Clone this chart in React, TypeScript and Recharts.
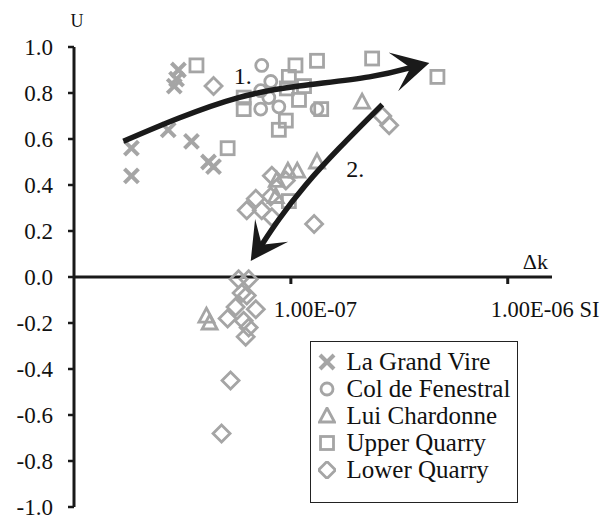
import React from 'react';
import {
  ScatterChart,
  Scatter,
  XAxis,
  YAxis,
  ReferenceLine,
  ReferenceDot,
  Legend,
  Curve,
} from 'recharts';

const GRAY = '#a5a5a5';
const INK = '#1a1a1a';
const FONT = "'Liberation Serif', Tinos, 'Times New Roman', Times, serif";

// Susceptibility change Δk (SI) against U, one list per site
const laGrandVire = [
  { k: 1.84e-8, u: 0.56 },
  { k: 1.84e-8, u: 0.44 },
  { k: 2.72e-8, u: 0.64 },
  { k: 3.48e-8, u: 0.59 },
  { k: 3.03e-8, u: 0.9 },
  { k: 2.97e-8, u: 0.86 },
  { k: 2.9e-8, u: 0.83 },
  { k: 4.17e-8, u: 0.5 },
  { k: 4.4e-8, u: 0.48 },
];

const colDeFenestral = [
  { k: 7.34e-8, u: 0.92 },
  { k: 8.08e-8, u: 0.85 },
  { k: 7.26e-8, u: 0.81 },
  { k: 7.91e-8, u: 0.78 },
  { k: 8.8e-8, u: 0.74 },
  { k: 7.26e-8, u: 0.73 },
  { k: 1.32e-7, u: 0.73 },
];

const luiChardonne = [
  { k: 2.13e-7, u: 0.76 },
  { k: 1.32e-7, u: 0.5 },
  { k: 1.07e-7, u: 0.46 },
  { k: 9.69e-8, u: 0.46 },
  { k: 8.61e-8, u: 0.42 },
  { k: 8.52e-8, u: 0.35 },
  { k: 4.08e-8, u: -0.17 },
  { k: 4.22e-8, u: -0.2 },
];

const upperQuarry = [
  { k: 3.67e-8, u: 0.92 },
  { k: 5.11e-8, u: 0.56 },
  { k: 6.06e-8, u: 0.78 },
  { k: 6.06e-8, u: 0.73 },
  { k: 1.05e-7, u: 0.92 },
  { k: 1.32e-7, u: 0.94 },
  { k: 2.37e-7, u: 0.95 },
  { k: 4.74e-7, u: 0.87 },
  { k: 9.79e-8, u: 0.87 },
  { k: 1.15e-7, u: 0.83 },
  { k: 9.58e-8, u: 0.82 },
  { k: 1.09e-7, u: 0.77 },
  { k: 9.48e-8, u: 0.68 },
  { k: 8.8e-8, u: 0.64 },
  { k: 1.38e-7, u: 0.73 },
  { k: 9.79e-8, u: 0.33 },
];

const lowerQuarry = [
  { k: 4.4e-8, u: 0.83 },
  { k: 2.64e-7, u: 0.7 },
  { k: 2.84e-7, u: 0.66 },
  { k: 1.28e-7, u: 0.23 },
  { k: 8.17e-8, u: 0.44 },
  { k: 6.89e-8, u: 0.34 },
  { k: 6.26e-8, u: 0.29 },
  { k: 7.34e-8, u: 0.29 },
  { k: 8.08e-8, u: 0.35 },
  { k: 8.17e-8, u: 0.26 },
  { k: 9.48e-8, u: 0.42 },
  { k: 5.74e-8, u: -0.01 },
  { k: 6.39e-8, u: -0.01 },
  { k: 5.93e-8, u: -0.07 },
  { k: 6.26e-8, u: -0.08 },
  { k: 5.56e-8, u: -0.13 },
  { k: 5.11e-8, u: -0.18 },
  { k: 6.89e-8, u: -0.14 },
  { k: 6.06e-8, u: -0.19 },
  { k: 6.39e-8, u: -0.22 },
  { k: 6.19e-8, u: -0.26 },
  { k: 5.27e-8, u: -0.45 },
  { k: 4.79e-8, u: -0.68 },
];

// Trend arrows (last point is the arrow tip)
const trend1 = [
  { k: 1.69e-8, u: 0.59 },
  { k: 3.03e-8, u: 0.69 },
  { k: 5.74e-8, u: 0.78 },
  { k: 1.09e-7, u: 0.83 },
  { k: 2.3e-7, u: 0.87 },
  { k: 3.56e-7, u: 0.91 },
  { k: 4.35e-7, u: 0.93 },
];
const trend2 = [
  { k: 2.64e-7, u: 0.75 },
  { k: 1.67e-7, u: 0.56 },
  { k: 1.17e-7, u: 0.4 },
  { k: 8.8e-8, u: 0.25 },
  { k: 7.34e-8, u: 0.14 },
  { k: 6.53e-8, u: 0.07 },
];
const trendLabels = [
  { k: 6.0e-8, u: 0.874, text: '1.' },
  { k: 1.98e-7, u: 0.468, text: '2.' },
];

const uTicks = [-1, -0.8, -0.6, -0.4, -0.2, 0, 0.2, 0.4, 0.6, 0.8, 1];
const kTicks = [1e-7, 1e-6];
const kTickLabels = ['1.00E-07', '1.00E-06 SI'];

type MarkerKind = 'cross' | 'circle' | 'triangle' | 'square' | 'diamond';

const sites: { name: string; data: { k: number; u: number }[]; marker: MarkerKind }[] = [
  { name: 'La Grand Vire', data: laGrandVire, marker: 'cross' },
  { name: 'Col de Fenestral', data: colDeFenestral, marker: 'circle' },
  { name: 'Lui Chardonne', data: luiChardonne, marker: 'triangle' },
  { name: 'Upper Quarry', data: upperQuarry, marker: 'square' },
  { name: 'Lower Quarry', data: lowerQuarry, marker: 'diamond' },
];

function Marker({ kind, cx, cy }: { kind: MarkerKind; cx: number; cy: number }) {
  const common = { fill: 'none', stroke: GRAY, strokeWidth: 2.8 };
  switch (kind) {
    case 'cross':
      return (
        <g stroke={GRAY} strokeWidth={4}>
          <line x1={cx - 7} y1={cy - 7} x2={cx + 7} y2={cy + 7} />
          <line x1={cx - 7} y1={cy + 7} x2={cx + 7} y2={cy - 7} />
        </g>
      );
    case 'circle':
      return <circle cx={cx} cy={cy} r={6} {...common} />;
    case 'triangle':
      return (
        <polygon
          points={`${cx},${cy - 8} ${cx + 7.5},${cy + 6} ${cx - 7.5},${cy + 6}`}
          strokeLinejoin="miter"
          {...common}
        />
      );
    case 'square':
      return <rect x={cx - 6.5} y={cy - 6.5} width={13} height={13} {...common} />;
    case 'diamond':
    default:
      return (
        <polygon
          points={`${cx},${cy - 8.5} ${cx + 8.5},${cy} ${cx},${cy + 8.5} ${cx - 8.5},${cy}`}
          {...common}
        />
      );
  }
}

// Curved shaft through the trend points, finished with a stealth arrowhead
const renderArrow = (props: any) => {
  const pts = (props.points || []).map((p: any) => ({
    x: p.x ?? p.cx,
    y: p.y ?? p.cy,
  }));
  if (pts.length < 2) return <g />;
  const tip = pts[pts.length - 1];
  const notch = pts[pts.length - 2];
  const dx = tip.x - notch.x;
  const dy = tip.y - notch.y;
  const len = Math.hypot(dx, dy) || 1;
  const ux = dx / len;
  const uy = dy / len;
  const nx = -uy;
  const ny = ux;
  const L = 37;
  const W = 20;
  const bx = tip.x - ux * L;
  const by = tip.y - uy * L;
  const shaft = [...pts.slice(0, -1), { x: notch.x + ux * 6, y: notch.y + uy * 6 }];
  const head = [
    tip,
    { x: bx + nx * W, y: by + ny * W },
    notch,
    { x: bx - nx * W, y: by - ny * W },
  ];
  return (
    <g>
      <Curve type="natural" points={shaft} stroke={INK} strokeWidth={5.5} fill="none" />
      <polygon points={head.map((p) => `${p.x},${p.y}`).join(' ')} fill={INK} stroke="none" />
    </g>
  );
};

const hiddenPoint = () => <g />;

function LegendBox(props: any) {
  const payload: any[] = props.payload || [];
  const names = payload.map((p) => p.value).filter((v) => sites.some((s) => s.name === v));
  const rows = names.length ? sites.filter((s) => names.includes(s.name)) : sites;
  return (
    <div
      style={{
        boxSizing: 'border-box',
        width: 208,
        height: 162,
        border: '1.5px solid #222',
        background: '#fff',
        padding: '6px 0 0 6.5px',
        fontFamily: FONT,
        fontSize: 25,
        color: '#111',
      }}
    >
      {rows.map((s) => (
        <div
          key={s.name}
          style={{ display: 'flex', alignItems: 'center', height: 27, lineHeight: '27px', whiteSpace: 'nowrap' }}
        >
          <svg width={18} height={18} style={{ marginRight: 11, flex: 'none' }}>
            <Marker kind={s.marker} cx={9} cy={9} />
          </svg>
          <span>{s.name}</span>
        </div>
      ))}
    </div>
  );
}

export default function App() {
  return (
    <div
      style={{
        position: 'absolute',
        left: 0,
        top: 0,
        width: 614,
        height: 516,
        overflow: 'hidden',
        background: '#fff',
        fontFamily: FONT,
      }}
    >
      <ScatterChart width={614} height={516} margin={{ top: 47, right: 62, bottom: 9, left: 0 }}>
        <XAxis
          type="number"
          dataKey="k"
          scale="log"
          domain={[1e-8, 1.6e-6]}
          allowDataOverflow
          hide
        />
        <YAxis
          type="number"
          dataKey="u"
          domain={[-1, 1]}
          ticks={uTicks}
          interval={0}
          width={74}
          tickFormatter={(v: number) => v.toFixed(1)}
          axisLine={{ stroke: INK, strokeWidth: 3 }}
          tickLine={{ stroke: INK, strokeWidth: 2.5 }}
          tickSize={6}
          tickMargin={15}
          tick={{ fill: '#111', fontSize: 23, fontFamily: FONT }}
        />
        <ReferenceLine y={0} stroke={INK} strokeWidth={3} ifOverflow="visible" />

        {kTicks.map((t, i) => (
          <ReferenceDot
            key={t}
            x={t}
            y={0}
            r={0}
            ifOverflow="visible"
            shape={(p: any) => (
              <g>
                <line x1={p.cx} y1={p.cy} x2={p.cx} y2={p.cy + 7} stroke={INK} strokeWidth={3} />
                <text x={p.cx - 17} y={p.cy + 40} fontSize={22.5} fontFamily={FONT} fill="#111">
                  {kTickLabels[i]}
                </text>
              </g>
            )}
          />
        ))}

        <ReferenceDot
          x={1e-8}
          y={1}
          r={0}
          ifOverflow="visible"
          shape={(p: any) => (
            <text x={p.cx + 3} y={p.cy - 20} textAnchor="middle" fontSize={18} fontFamily={FONT} fill="#111">
              U
            </text>
          )}
        />
        <ReferenceDot
          x={1.6e-6}
          y={0}
          r={0}
          ifOverflow="visible"
          shape={(p: any) => (
            <text x={p.cx - 4} y={p.cy - 8} textAnchor="end" fontSize={22} fontFamily={FONT} fill="#111">
              Δk
            </text>
          )}
        />

        {sites.map((s) => (
          <Scatter
            key={s.name}
            name={s.name}
            data={s.data}
            isAnimationActive={false}
            fill={GRAY}
            shape={(p: any) => <Marker kind={s.marker} cx={p.cx} cy={p.cy} />}
          />
        ))}

        <Scatter
          name="trend-1"
          data={trend1}
          legendType="none"
          isAnimationActive={false}
          line={renderArrow}
          shape={hiddenPoint}
        />
        <Scatter
          name="trend-2"
          data={trend2}
          legendType="none"
          isAnimationActive={false}
          line={renderArrow}
          shape={hiddenPoint}
        />

        {trendLabels.map((l) => (
          <ReferenceDot
            key={l.text}
            x={l.k}
            y={l.u}
            r={0}
            ifOverflow="visible"
            shape={(p: any) => (
              <text
                x={p.cx}
                y={p.cy}
                textAnchor="middle"
                dominantBaseline="central"
                fontSize={24}
                fontFamily={FONT}
                fill="#111"
              >
                {l.text}
              </text>
            )}
          />
        ))}

        <Legend
          layout="vertical"
          align="center"
          verticalAlign="middle"
          content={(p: any) => <LegendBox payload={p.payload} />}
          wrapperStyle={{ position: 'absolute', left: 310, top: 341, width: 208, height: 162 }}
        />
      </ScatterChart>
    </div>
  );
}
